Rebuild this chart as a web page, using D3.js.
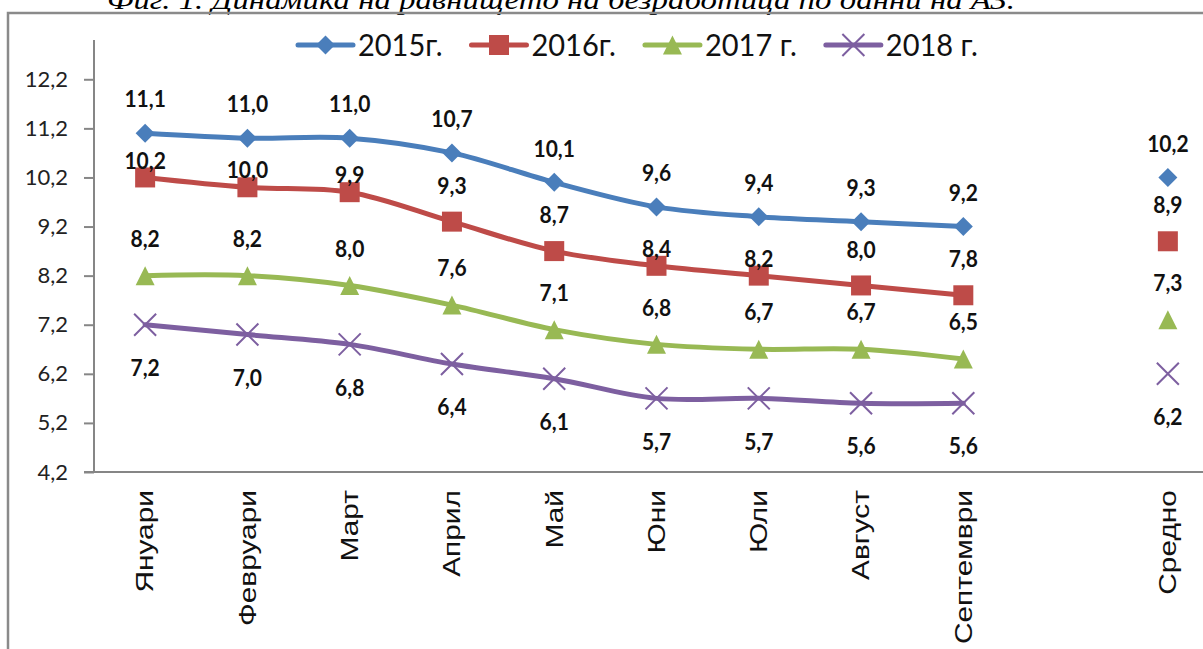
<!DOCTYPE html>
<html>
<head>
<meta charset="utf-8">
<script src="https://cdn.jsdelivr.net/npm/d3@7"></script>
<style>
  html, body { margin: 0; padding: 0; background: #fff; }
  svg { display: block; }
</style>
</head>
<body>
<div id="chart"></div>
<script>
// Categories on the x axis (empty slot separates the months from the average)
const categories = ['Януари', 'Февруари', 'Март', 'Април', 'Май', 'Юни', 'Юли', 'Август', 'Септември', '', 'Средно'];
const months = categories.slice(0, 9);
const avgCategory = 'Средно';

const seriesNames = ['2015г.', '2016г.', '2017 г.', '2018 г.'];
const values2015 = [11.1, 11.0, 11.0, 10.7, 10.1, 9.6, 9.4, 9.3, 9.2];
const values2016 = [10.2, 10.0, 9.9, 9.3, 8.7, 8.4, 8.2, 8.0, 7.8];
const values2017 = [8.2, 8.2, 8.0, 7.6, 7.1, 6.8, 6.7, 6.7, 6.5];
const values2018 = [7.2, 7.0, 6.8, 6.4, 6.1, 5.7, 5.7, 5.6, 5.6];
const averages = [10.2, 8.9, 7.3, 6.2];

const yTicks = [4.2, 5.2, 6.2, 7.2, 8.2, 9.2, 10.2, 11.2, 12.2];
const titleText = 'Фиг. 1. Динамика на равнището на безработица по данни на АЗ.';

const width = 1203, height = 649;
const fmt = v => d3.format('.1f')(v).replace('.', ',');

// marker paths, centred on the point
const markers = {
  diamond: 'M0,-9.5L9.5,0L0,9.5L-9.5,0Z',
  square: 'M-10,-10H10V10H-10Z',
  triangle: 'M0,-9.5L9.5,9.5L-9.5,9.5Z',
  cross: 'M-11,-11L11,11M11,-11L-11,11'
};

const styles = [
  { color: '#4a7ebb', marker: 'diamond', labelDy: -34 },
  { color: '#be4b48', marker: 'square', labelDy: -36 },
  { color: '#98b954', marker: 'triangle', labelDy: -37 },
  { color: '#7d5fa0', marker: 'cross', labelDy: 43 }
];

const seriesValues = [values2015, values2016, values2017, values2018];

const svg = d3.select('#chart').append('svg')
  .attr('width', width)
  .attr('height', height);

// title, cut off by the top edge
svg.append('text')
  .attr('x', 107)
  .attr('y', 9)
  .attr('textLength', 908)
  .attr('lengthAdjust', 'spacingAndGlyphs')
  .style('font-family', 'Liberation Serif')
  .style('font-style', 'italic')
  .style('font-size', '28px')
  .text(titleText);

// outer frame
svg.append('path')
  .attr('d', `M8,${height}V13H${width}`)
  .attr('fill', 'none')
  .attr('stroke', '#8a8a8a')
  .attr('stroke-width', 2.5);

const x = d3.scaleBand()
  .domain(categories)
  .range([94, 1219])
  .paddingInner(0)
  .paddingOuter(0);
const cx = c => x(c) + x.bandwidth() / 2;

const y = d3.scaleLinear()
  .domain([4.2, 13.0])
  .range([472, 40]);

// y axis
const yAxis = svg.append('g')
  .attr('transform', 'translate(94,0)')
  .call(d3.axisLeft(y).tickValues(yTicks).tickFormat(fmt).tickSize(10).tickPadding(8));
yAxis.select('.domain').attr('stroke', '#868686').attr('stroke-width', 2)
  .attr('d', `M-10,${y(4.2)}H0V40`);
yAxis.selectAll('.tick line').attr('stroke', '#868686').attr('stroke-width', 2);
yAxis.selectAll('.tick text')
  .style('font-family', 'Lato')
  .style('font-size', '22px')
  .attr('fill', '#222')
  .attr('x', -26);

// x axis
svg.append('line')
  .attr('x1', 93).attr('x2', width)
  .attr('y1', y(4.2)).attr('y2', y(4.2))
  .attr('stroke', '#868686').attr('stroke-width', 2);

svg.append('g').selectAll('text')
  .data(categories.filter(c => c !== ''))
  .join('text')
  .attr('transform', c => `translate(${cx(c)},490) rotate(-90) scale(1.3,1)`)
  .attr('text-anchor', 'end')
  .attr('dy', '0.36em')
  .style('font-family', 'Liberation Sans')
  .style('font-size', '23px')
  .attr('fill', '#111')
  .text(c => c);

// lines
const line = d3.line()
  .x((d, i) => cx(months[i]))
  .y(d => y(d))
  .curve(d3.curveCatmullRom.alpha(0.5));

const plot = svg.append('g');

seriesValues.forEach((vals, si) => {
  const st = styles[si];
  const g = plot.append('g');
  g.append('path')
    .datum(vals)
    .attr('d', line)
    .attr('fill', 'none')
    .attr('stroke', st.color)
    .attr('stroke-width', 5)
    .attr('stroke-linejoin', 'round')
    .attr('stroke-linecap', 'round');

  const pts = vals.map((v, i) => ({ c: months[i], v })).concat([{ c: avgCategory, v: averages[si] }]);
  g.selectAll('path.mk')
    .data(pts)
    .join('path')
    .attr('class', 'mk')
    .attr('transform', d => `translate(${cx(d.c)},${y(d.v)})`)
    .attr('d', markers[st.marker])
    .attr('fill', st.marker === 'cross' ? 'none' : st.color)
    .attr('stroke', st.marker === 'cross' ? st.color : 'none')
    .attr('stroke-width', 2);
});

// data labels (drawn after all lines)
seriesValues.forEach((vals, si) => {
  const st = styles[si];
  const pts = vals.map((v, i) => ({ c: months[i], v, i })).concat([{ c: avgCategory, v: averages[si], i: -1 }]);
  plot.append('g').selectAll('text')
    .data(pts)
    .join('text')
    .attr('transform', d => {
      let dy = st.labelDy;
      // crowded 2016 labels sit closer to their markers
      if (si === 1 && d.i >= 0 && (y(d.v) - y(values2015[d.i])) < 60) dy = -17;
      return `translate(${cx(d.c)},${y(d.v) + dy}) scale(1,1.08)`;
    })
    .attr('dy', '0.36em')
    .attr('text-anchor', 'middle')
    .style('font-family', 'Lato')
    .style('font-weight', 'bold')
    .style('font-size', '21px')
    .attr('fill', '#111')
    .text(d => fmt(d.v));
});

// legend
const legend = svg.append('g').attr('transform', 'translate(298,45)');
let lx = 0;
seriesNames.forEach((name, si) => {
  const st = styles[si];
  const item = legend.append('g').attr('transform', `translate(${lx},0)`);
  item.append('line')
    .attr('x1', 0).attr('x2', 55)
    .attr('stroke', st.color).attr('stroke-width', 5).attr('stroke-linecap', 'round');
  item.append('path')
    .attr('transform', 'translate(27.5,0)')
    .attr('d', markers[st.marker])
    .attr('fill', st.marker === 'cross' ? 'none' : st.color)
    .attr('stroke', st.marker === 'cross' ? st.color : 'none')
    .attr('stroke-width', 2);
  const t = item.append('text')
    .attr('x', 60)
    .attr('dy', '0.36em')
    .attr('transform', 'scale(1,1.08)')
    .style('font-family', 'Lato')
    .style('font-size', '29px')
    .attr('fill', '#111')
    .text(name);
  lx += 60 + t.node().getComputedTextLength() + 29;
});
</script>
</body>
</html>
